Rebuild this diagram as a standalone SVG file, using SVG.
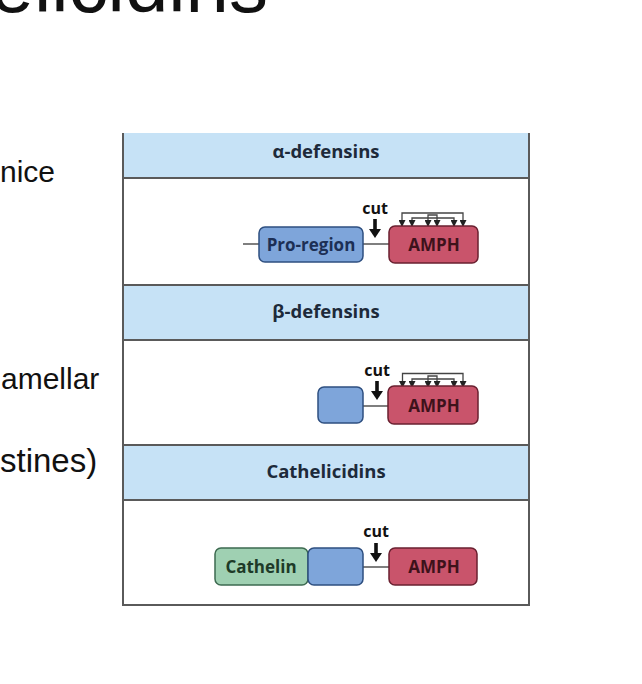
<svg xmlns="http://www.w3.org/2000/svg" width="642" height="684" viewBox="0 0 642 684">
<style>
.side{font-family:"Liberation Sans",Arial,sans-serif;font-size:30px;fill:#111}
.hdr{fill:#c6e2f6}
.hdrtxt{font-family:"Open Sans","DejaVu Sans",sans-serif;font-weight:bold;font-size:18.5px;fill:#1d2a3a;text-anchor:middle}
.border{stroke:#5a5a5a;stroke-width:2;fill:none}
.blue{fill:#7ea5da;stroke:#2e4f80;stroke-width:1.5}
.red{fill:#c9546b;stroke:#6a2030;stroke-width:1.5}
.green{fill:#9fd0b2;stroke:#3d6a50;stroke-width:1.5}
.lbl{font-family:"Open Sans","DejaVu Sans",sans-serif;font-weight:bold;font-size:17px;text-anchor:middle}
.cut{font-family:"Open Sans","DejaVu Sans",sans-serif;font-weight:bold;font-size:16px;fill:#111;text-anchor:middle}
.link{stroke:#555;stroke-width:1.5;fill:none}
.bridge{stroke:#444;stroke-width:1.3;fill:none;marker-start:url(#pin);marker-end:url(#pin)}
</style>
<defs>
<marker id="pin" viewBox="0 0 6 6" refX="6" refY="3" markerWidth="7" markerHeight="7" markerUnits="userSpaceOnUse" orient="auto-start-reverse">
<path d="M0,0 L6,3 L0,6 Z" fill="#222"/>
</marker>
<g id="cutarrow">
<rect x="-1.8" y="0" width="3.6" height="11" fill="#111"/>
<path d="M-6,10 L6,10 L0,19 Z" fill="#111"/>
</g>
</defs>
<rect width="642" height="684" fill="#fff"/>
<text x="268" y="12" class="side" style="font-size:78px" text-anchor="end">Cathelicidins</text>
<text x="0" y="182" class="side">nice</text>
<text x="1" y="389" class="side">amellar</text>
<text x="0" y="472" class="side" style="font-size:33px">stines)</text>

<g id="table">
<rect x="123" y="133" width="406" height="45" class="hdr"/>
<rect x="123" y="285" width="406" height="55" class="hdr"/>
<rect x="123" y="445" width="406" height="55" class="hdr"/>
<path class="border" d="M123,133 V605 H529 V133 M123,178 H529 M123,285 H529 M123,340 H529 M123,445 H529 M123,500 H529"/>
<text x="326" y="158" class="hdrtxt">α-defensins</text>
<text x="326" y="318" class="hdrtxt">β-defensins</text>
<text x="326" y="478" class="hdrtxt">Cathelicidins</text>
</g>

<g id="connectors">
<path class="link" d="M243,244 H260 M363,244 H390"/>
<path class="link" d="M363,406 H389"/>
<path class="link" d="M363,567 H390"/>
<path class="bridge" d="M402,227 V213 H463 V227"/>
<path class="bridge" d="M428,227 V215 H437 V227"/>
<path class="bridge" d="M412,227 V218 H454 V227"/>
<path class="bridge" d="M402.5,388 V373.5 H463 V388"/>
<path class="bridge" d="M428,388 V376 H437 V388"/>
<path class="bridge" d="M412,388 V379 H454 V388"/>
<use href="#cutarrow" x="375" y="219"/>
<use href="#cutarrow" x="377" y="381"/>
<use href="#cutarrow" x="376" y="543"/>
</g>

<g id="alpha-row">
<rect x="259" y="227" width="104" height="35" rx="6" class="blue"/>
<text x="311" y="250.5" class="lbl" fill="#1c2f55">Pro-region</text>
<rect x="389" y="226" width="89" height="37" rx="6" class="red"/>
<text x="434" y="251" class="lbl" fill="#3e121b">AMPH</text>
<text x="375" y="214" class="cut">cut</text>
</g>

<g id="beta-row">
<rect x="318" y="387" width="45" height="36" rx="6" class="blue"/>
<rect x="388" y="386" width="90" height="38" rx="6" class="red"/>
<text x="434" y="412" class="lbl" fill="#3e121b">AMPH</text>
<text x="377" y="376" class="cut">cut</text>
</g>

<g id="cathelicidin-row">
<rect x="215" y="548" width="93" height="37" rx="6" class="green"/>
<text x="261" y="572.5" class="lbl" fill="#1d3a28">Cathelin</text>
<rect x="308" y="548" width="55" height="37" rx="6" class="blue"/>
<rect x="389" y="548" width="88" height="37" rx="6" class="red"/>
<text x="434" y="573" class="lbl" fill="#3e121b">AMPH</text>
<text x="376" y="537" class="cut">cut</text>
</g>
</svg>
